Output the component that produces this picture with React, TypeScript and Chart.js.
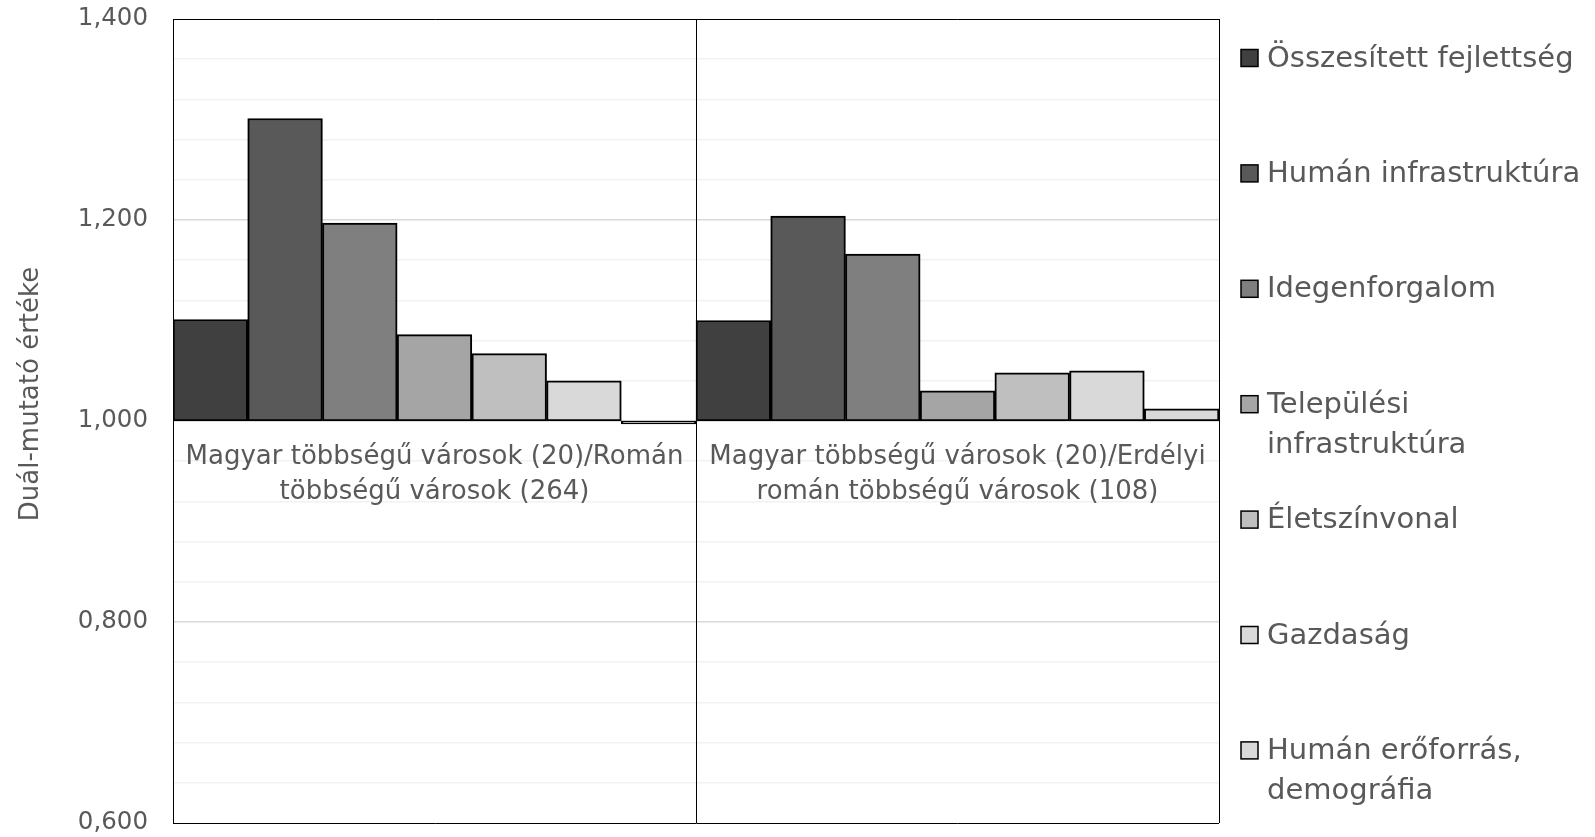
import React, { useEffect, useRef } from "react";
import { Chart, registerables } from "chart.js";

Chart.register(...registerables);

// ---- data ----
const categories: string[][] = [
  ["Magyar többségű városok (20)/Román", "többségű városok (264)"],
  ["Magyar többségű városok (20)/Erdélyi", "román többségű városok (108)"],
];

const seriesNames: string[] = [
  "Összesített fejlettség",
  "Humán infrastruktúra",
  "Idegenforgalom",
  "Települési infrastruktúra",
  "Életszínvonal",
  "Gazdaság",
  "Humán erőforrás, demográfia",
];

const legendLines: string[][] = [
  ["Összesített fejlettség"],
  ["Humán infrastruktúra"],
  ["Idegenforgalom"],
  ["Települési", "infrastruktúra"],
  ["Életszínvonal"],
  ["Gazdaság"],
  ["Humán erőforrás,", "demográfia"],
];

const osszesitett = [1.101, 1.1];
const humanInfra = [1.301, 1.204];
const idegenforgalom = [1.197, 1.166];
const telepulesi = [1.086, 1.03];
const eletszinvonal = [1.067, 1.048];
const gazdasag = [1.04, 1.05];
const humanEroforras = [0.997, 1.012];

const seriesValues = [
  osszesitett,
  humanInfra,
  idegenforgalom,
  telepulesi,
  eletszinvonal,
  gazdasag,
  humanEroforras,
];

const colors = ["#404040", "#595959", "#7f7f7f", "#a5a5a5", "#bfbfbf", "#d9d9d9", "#d9d9d9"];

const yTitle = "Duál-mutató értéke";
const yMin = 0.6;
const yMax = 1.4;
const yMinorStep = 0.04;
const barBase = 1.0;

const FONT = "'DejaVu Sans', sans-serif";
const TEXT = "#595959";

const sideLegend = {
  id: "sideLegend",
  afterDraw(chart: any) {
    const { ctx, chartArea } = chart;
    const step = 115.4;
    const lineH = 40.5;
    const box = 17;
    const boxX = chartArea.right + 22;
    const textX = chartArea.right + 48;
    ctx.save();
    ctx.font = `29px ${FONT}`;
    ctx.textBaseline = "middle";
    ctx.textAlign = "left";
    legendLines.forEach((lines, i) => {
      const firstY = chartArea.top + 39 + step * i;
      ctx.fillStyle = colors[i];
      ctx.fillRect(boxX, firstY - box / 2, box, box);
      ctx.lineWidth = 1.5;
      ctx.strokeStyle = "#000";
      ctx.strokeRect(boxX, firstY - box / 2, box, box);
      ctx.fillStyle = TEXT;
      lines.forEach((t, k) => ctx.fillText(t, textX, firstY + k * lineH + 1));
    });
    ctx.restore();
  },
};

const yTitlePlugin = {
  id: "yTitlePlugin",
  afterDraw(chart: any) {
    const { ctx, chartArea } = chart;
    const cy = (chartArea.top + chartArea.bottom) / 2 - 27;
    ctx.save();
    ctx.translate(31, cy);
    ctx.rotate(-Math.PI / 2);
    ctx.font = `26px ${FONT}`;
    ctx.fillStyle = TEXT;
    ctx.textAlign = "center";
    ctx.textBaseline = "middle";
    ctx.fillText(yTitle, 0, 0);
    ctx.restore();
  },
};

function isMajor(v: number) {
  const r = v / 0.2;
  return Math.abs(r - Math.round(r)) < 1e-6;
}

export default function App() {
  const ref = useRef<HTMLCanvasElement | null>(null);

  useEffect(() => {
    if (!ref.current) return;
    const chart = new Chart(ref.current, {
      type: "bar",
      data: {
        labels: categories,
        datasets: seriesNames.map((name, i) => ({
          label: name,
          data: seriesValues[i],
          backgroundColor: colors[i],
          borderColor: "#000000",
          borderWidth: 2,
          borderSkipped: false,
          base: barBase,
          barPercentage: 1,
          categoryPercentage: 1,
        })),
      },
      options: {
        animation: false,
        responsive: true,
        maintainAspectRatio: false,
        layout: { padding: { top: 19, bottom: 14, left: 0, right: 376 } },
        plugins: {
          legend: { display: false },
          tooltip: { enabled: false },
        },
        scales: {
          x: {
            position: { y: 1.0 } as any,
            offset: true,
            grid: {
              offset: true,
              color: "#000000",
              lineWidth: 1,
              drawTicks: false,
              z: 1,
            },
            border: { display: false },
            ticks: {
              color: TEXT,
              font: { family: FONT, size: 26, lineHeight: 1.35 },
              padding: 19,
              maxRotation: 0,
              autoSkip: false,
            },
          },
          y: {
            min: yMin,
            max: yMax,
            afterFit: (scale: any) => {
              scale.width = 173;
              scale.paddingTop = 0;
              scale.paddingBottom = 0;
            },
            grid: {
              drawTicks: false,
              color: (c: any) => {
                const v = c.tick ? c.tick.value : 0;
                if (Math.abs(v - yMin) < 1e-6 || Math.abs(v - yMax) < 1e-6) return "#000000";
                return isMajor(v) ? "#d9d9d9" : "#f2f2f2";
              },
              lineWidth: (c: any) => {
                const v = c.tick ? c.tick.value : 0;
                if (Math.abs(v - yMin) < 1e-6 || Math.abs(v - yMax) < 1e-6) return 1;
                return 1.5;
              },
            },
            border: { display: true, color: "#000000", width: 1 },
            ticks: {
              stepSize: yMinorStep,
              autoSkip: false,
              padding: 25,
              color: TEXT,
              font: { family: FONT, size: 24.5 },
              callback: (v: any) => (isMajor(Number(v)) ? Number(v).toFixed(3).replace(".", ",") : ""),
            },
          },
        },
      },
      plugins: [sideLegend, yTitlePlugin],
    });
    return () => chart.destroy();
  }, []);

  return (
    <div style={{ position: "fixed", left: 0, top: 0, width: 1595, height: 837, background: "#fff" }}>
      <canvas ref={ref} />
    </div>
  );
}
